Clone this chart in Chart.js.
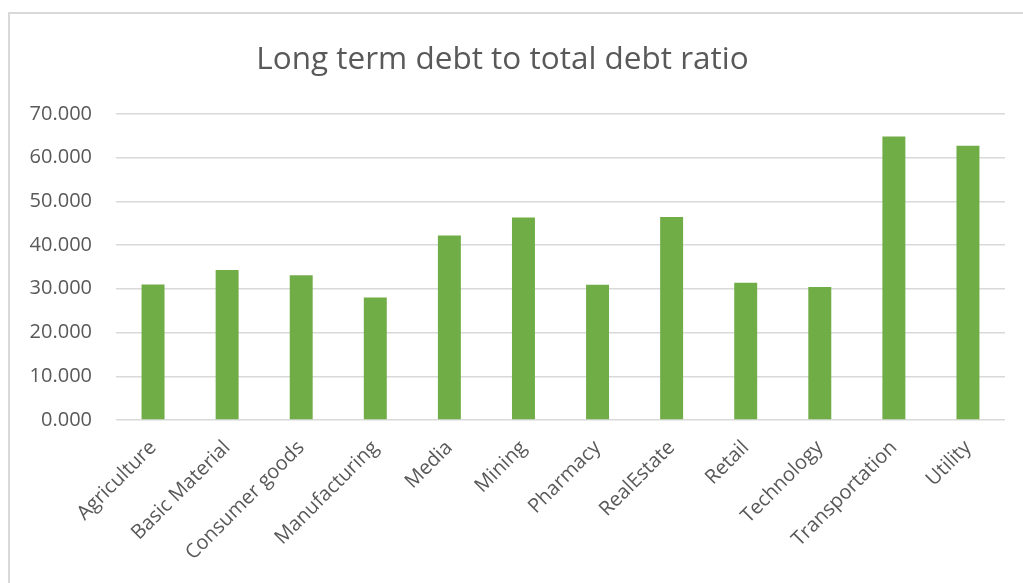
<!DOCTYPE html>
<html>
<head>
<meta charset="utf-8">
<script src="https://cdn.jsdelivr.net/npm/chart.js@4.4.0/dist/chart.umd.min.js"></script>
<style>
  html, body { margin: 0; padding: 0; background: #fff; overflow: hidden; }
  #wrap { position: relative; width: 1023px; height: 583px; }
  #frame { position: absolute; left: 8px; top: 12px; width: 1030px; height: 600px;
           border: 2px solid #d9d9d9; box-sizing: border-box; pointer-events: none; }
  canvas { position: absolute; left: 0; top: 0; }
</style>
</head>
<body>
<div id="wrap">
  <canvas id="myChart" width="1023" height="583"></canvas>
  <div id="frame"></div>
</div>
<script>
const chartTitle = 'Long term debt to total debt ratio';
const categories = ['Agriculture', 'Basic Material', 'Consumer goods', 'Manufacturing', 'Media',
    'Mining', 'Pharmacy', 'RealEstate', 'Retail', 'Technology', 'Transportation', 'Utility'];
const ratios = [31.0, 34.3, 33.1, 28.0, 42.2, 46.3, 30.9, 46.4, 31.4, 30.4, 64.8, 62.7];
const yTicks = [0, 10, 20, 30, 40, 50, 60, 70];

const textColor = '#595959';
const gridColor = '#d9d9d9';
const fontFamily = '"Open Sans", "Noto Sans", sans-serif';

const ctx = document.getElementById('myChart').getContext('2d');

const myChart = new Chart(ctx, {
    type: 'bar',
    data: {
        labels: categories,
        datasets: [{
            label: 'Ratio',
            data: ratios,
            backgroundColor: '#70ad47',
            borderWidth: 0,
            categoryPercentage: 1,
            barPercentage: 0.31
        }]
    },
    options: {
        responsive: false,
        animation: false,
        layout: { padding: { left: 0, right: 18, top: 0, bottom: 0 } },
        plugins: {
            legend: { display: false },
            tooltip: { enabled: false },
            title: {
                display: true,
                text: chartTitle,
                color: textColor,
                font: { family: fontFamily, size: 31.5, weight: 'normal' },
                padding: { top: 41, bottom: 35 }
            }
        },
        scales: {
            x: {
                type: 'category',
                grid: { display: false },
                border: { display: false },
                ticks: {
                    color: textColor,
                    font: { family: fontFamily, size: 20 },
                    minRotation: 45,
                    maxRotation: 45,
                    padding: 8,
                    autoSkip: false
                },
                afterFit: (scale) => { scale.height = 163; }
            },
            y: {
                min: 0,
                max: 70,
                afterBuildTicks: (scale) => { scale.ticks = yTicks.map(v => ({ value: v })); },
                grid: { color: gridColor, lineWidth: 1.5, drawTicks: false },
                border: { display: false },
                ticks: {
                    color: textColor,
                    font: { family: fontFamily, size: 20 },
                    padding: 24,
                    callback: (v) => Number(v).toFixed(3)
                },
                afterFit: (scale) => { scale.width = 116; }
            }
        }
    }
});
</script>
</body>
</html>
